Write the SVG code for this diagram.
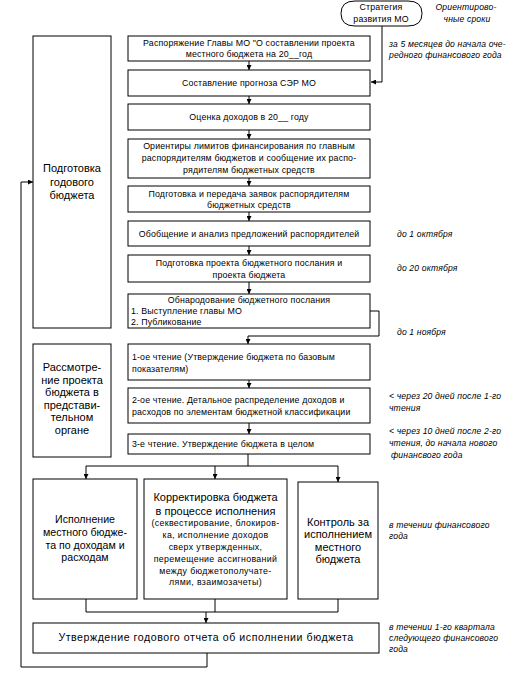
<svg xmlns="http://www.w3.org/2000/svg" width="518" height="673" viewBox="0 0 518 673">
<style>
.b{fill:#fff;stroke:#000;stroke-width:1}
.t{font-family:"Liberation Sans",Arial,sans-serif;font-size:8.8px;letter-spacing:0.15px;fill:#000}
.c{text-anchor:middle}
.L{font-family:"Liberation Sans",Arial,sans-serif;font-size:11px;fill:#000;text-anchor:middle}
.s{font-family:"Liberation Sans",Arial,sans-serif;font-size:8.8px;letter-spacing:0.35px;fill:#000;text-anchor:middle}
.n{font-family:"Liberation Sans",Arial,sans-serif;font-size:8.6px;letter-spacing:0.15px;font-style:italic;fill:#000}
.w{fill:none;stroke:#000;stroke-width:1}
</style>
<defs>
<marker id="a" viewBox="0 0 6 6" refX="6" refY="3" markerWidth="5" markerHeight="5" orient="auto" markerUnits="userSpaceOnUse">
<path d="M0,0 L6,3 L0,6 Z" fill="#000"/>
</marker>
</defs>
<rect width="518" height="673" fill="#fff"/>

<g id="connectors">
<path class="w" d="M382,26 V82 H371" marker-end="url(#a)"/>
<path class="w" d="M249,61 V70" marker-end="url(#a)"/>
<path class="w" d="M249,96 V104" marker-end="url(#a)"/>
<path class="w" d="M249,130 V139" marker-end="url(#a)"/>
<path class="w" d="M249,178 V186" marker-end="url(#a)"/>
<path class="w" d="M249,212 V221" marker-end="url(#a)"/>
<path class="w" d="M249,246 V255" marker-end="url(#a)"/>
<path class="w" d="M249,282 V294" marker-end="url(#a)"/>
<path class="w" d="M247,311 H379 V336 H248 V344" marker-end="url(#a)"/>
<path class="w" d="M249,380 V388" marker-end="url(#a)"/>
<path class="w" d="M249,423 V434" marker-end="url(#a)"/>
<path class="w" d="M248,454 V466"/>
<path class="w" d="M86,466 H338"/>
<path class="w" d="M86,466 V479" marker-end="url(#a)"/>
<path class="w" d="M215,466 V479" marker-end="url(#a)"/>
<path class="w" d="M338,466 V482" marker-end="url(#a)"/>
<path class="w" d="M86,599 V612 H338 V599"/>
<path class="w" d="M215,599 V612"/>
<path class="w" d="M206,612 V623" marker-end="url(#a)"/>
<path class="w" d="M207,653 V667 H21 V182 H33" marker-end="url(#a)"/>
</g>

<g id="strategy">
<path class="b" d="M355,1 H408 Q422,1 422,13.5 Q422,26 408,26 H355 Q341,26 341,13.5 Q341,1 355,1 Z"/>
<text class="t c" x="381" y="10">Стратегия</text>
<text class="t c" x="381" y="22">развития МО</text>
</g>

<g id="prep">
<rect class="b" x="33" y="36" width="78" height="292"/>
<text class="L" x="72" y="172">Подготовка</text>
<text class="L" x="72" y="186">годового</text>
<text class="L" x="72" y="199">бюджета</text>
</g>

<g id="n1">
<rect class="b" x="128" y="36" width="242" height="25"/>
<text class="t c" x="249" y="46">Распоряжение Главы МО "О составлении проекта</text>
<text class="t c" x="249" y="57">местного бюджета на 20__год</text>
</g>
<g id="n2">
<rect class="b" x="128" y="70" width="242" height="26"/>
<text class="t c" x="249" y="86">Составление прогноза СЭР МО</text>
</g>
<g id="n3">
<rect class="b" x="128" y="104" width="242" height="26"/>
<text class="t c" x="249" y="120">Оценка доходов в 20__ году</text>
</g>
<g id="n4">
<rect class="b" x="128" y="139" width="242" height="39"/>
<text class="t c" x="249" y="149">Ориентиры лимитов финансирования по главным</text>
<text class="t c" x="249" y="161">распорядителям бюджетов и сообщение их распо-</text>
<text class="t c" x="249" y="173">рядителям бюджетных средств</text>
</g>
<g id="n5">
<rect class="b" x="128" y="186" width="242" height="26"/>
<text class="t c" x="249" y="197">Подготовка и передача заявок распорядителям</text>
<text class="t c" x="249" y="208">бюджетных средств</text>
</g>
<g id="n6">
<rect class="b" x="128" y="221" width="242" height="25"/>
<text class="t c" x="249" y="237">Обобщение и анализ предложений распорядителей</text>
</g>
<g id="n7">
<rect class="b" x="128" y="255" width="242" height="27"/>
<text class="t c" x="249" y="266">Подготовка проекта бюджетного послания и</text>
<text class="t c" x="249" y="278">проекта бюджета</text>
</g>
<g id="n8">
<rect class="b" x="128" y="294" width="242" height="34"/>
<text class="t c" x="249" y="303">Обнародование бюджетного послания</text>
<text class="t" x="131" y="314">1. Выступление главы МО</text>
<text class="t" x="131" y="325">2. Публикование</text>
</g>

<g id="review">
<rect class="b" x="33" y="344" width="78" height="113"/>
<text class="L" x="72" y="371">Рассмотре-</text>
<text class="L" x="72" y="383.5">ние проекта</text>
<text class="L" x="72" y="396">бюджета в</text>
<text class="L" x="72" y="408.5">представи-</text>
<text class="L" x="72" y="421">тельном</text>
<text class="L" x="72" y="433.5">органе</text>
</g>

<g id="n9">
<rect class="b" x="128" y="344" width="242" height="36"/>
<text class="t" x="132" y="360">1-ое чтение (Утверждение бюджета по базовым</text>
<text class="t" x="132" y="372">показателям)</text>
</g>
<g id="n10">
<rect class="b" x="128" y="388" width="242" height="35"/>
<text class="t" x="132" y="403">2-ое чтение. Детальное распределение доходов и</text>
<text class="t" x="132" y="415">расходов по элементам бюджетной классификации</text>
</g>
<g id="n11">
<rect class="b" x="128" y="434" width="242" height="20"/>
<text class="t" x="132" y="447">3-е чтение. Утверждение бюджета в целом</text>
</g>

<g id="exec">
<rect class="b" x="33" y="479" width="104" height="120"/>
<text class="L" x="85" y="523" style="font-size:10.6px">Исполнение</text>
<text class="L" x="85" y="536" style="font-size:10.6px">местного бюдже-</text>
<text class="L" x="85" y="548.5" style="font-size:10.6px">та по доходам и</text>
<text class="L" x="85" y="561" style="font-size:10.6px">расходам</text>
</g>
<g id="correct">
<rect class="b" x="144" y="479" width="143" height="120"/>
<text class="L" x="215.5" y="501">Корректировка бюджета</text>
<text class="L" x="215.5" y="515">в процессе исполнения</text>
<text class="s" x="215.5" y="526">(секвестирование, блокиров-</text>
<text class="s" x="215.5" y="537.5">ка, исполнение доходов</text>
<text class="s" x="215.5" y="549.5">сверх утвержденных,</text>
<text class="s" x="215.5" y="562">перемещение ассигнований</text>
<text class="s" x="215.5" y="573.5">между бюджетополучате-</text>
<text class="s" x="215.5" y="585">лями, взаимозачеты)</text>
</g>
<g id="control">
<rect class="b" x="298" y="482" width="80" height="117"/>
<text class="L" x="338" y="526">Контроль за</text>
<text class="L" x="338" y="538">исполнением</text>
<text class="L" x="338" y="550.5">местного</text>
<text class="L" x="338" y="563">бюджета</text>
</g>

<g id="report">
<rect class="b" x="33" y="623" width="346" height="30"/>
<text class="L" x="206" y="641" style="font-size:10.6px;letter-spacing:0.55px">Утверждение годового отчета об исполнении бюджета</text>
</g>

<g id="notes">
<text class="n" x="466" y="10" text-anchor="middle">Ориентирово-</text>
<text class="n" x="467" y="22" text-anchor="middle">чные сроки</text>
<text class="n" x="389" y="47">за 5 месяцев до начала оче-</text>
<text class="n" x="389" y="58">редного финансового года</text>
<text class="n" x="397" y="237">до 1 октября</text>
<text class="n" x="397" y="271">до 20 октября</text>
<text class="n" x="397" y="335">до 1 ноября</text>
<text class="n" x="389" y="399">&lt; через 20 дней после 1-го</text>
<text class="n" x="389" y="411">чтения</text>
<text class="n" x="389" y="434">&lt; через 10 дней после  2-го</text>
<text class="n" x="389" y="446">чтения, до начала  нового</text>
<text class="n" x="391" y="458">финансвого года</text>
<text class="n" x="389" y="528">в течении финансового</text>
<text class="n" x="389" y="539">года</text>
<text class="n" x="389" y="630">в течении 1-го квартала</text>
<text class="n" x="389" y="641">следующего финансового</text>
<text class="n" x="389" y="652">года</text>
</g>
</svg>
